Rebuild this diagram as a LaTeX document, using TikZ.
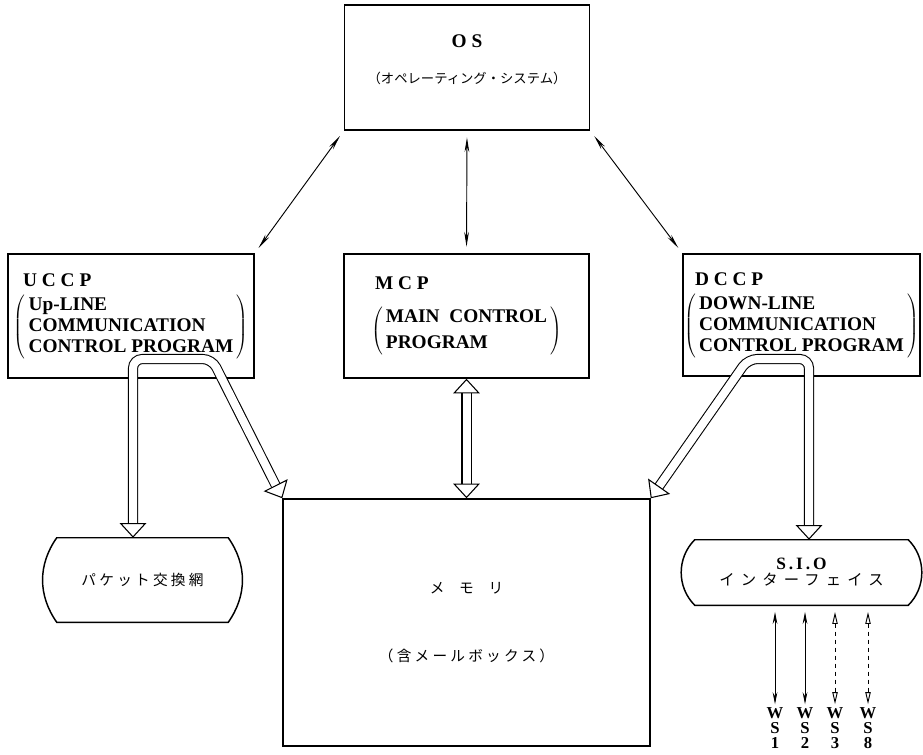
\documentclass[tikz,border=0pt]{standalone}
\usepackage{fontspec}
\setmainfont{Liberation Serif}
\newfontfamily\jpfont{Noto Sans CJK JP}
\newfontfamily\jpspaced[LetterSpace=22]{Noto Sans CJK JP}
\newfontfamily\jpwide[LetterSpace=40]{Noto Sans CJK JP}
\usetikzlibrary{arrows.meta}

\tikzset{
  progbox/.style={draw, line width=1.1pt, inner sep=0pt, align=left,
    font=\fontsize{14.5}{16}\selectfont\bfseries},
  termshape/.style={inner sep=0pt, align=center},
  outline/.style={line width=1.1pt},
  osarrow/.style={line width=0.7pt, >={Stealth[length=11pt, width=3.5pt]}, <->,
    shorten <=5pt, shorten >=5pt},
  bus/.style={double=white, double distance=6pt, line width=0.8pt, rounded corners=7pt,
    >={Triangle[open, length=11pt, width=20pt, line width=0.8pt]}, <->},
  wsline/.style={line width=0.7pt, >={Stealth[length=9pt, width=3.5pt]}, <->,
    shorten <=5pt, shorten >=2pt},
  wsdash/.style={line width=0.7pt, dash pattern=on 3pt off 3pt,
    >={Triangle[open, length=9pt, width=4pt]}, <->, shorten <=5pt, shorten >=2pt},
  wslabel/.style={align=center, inner sep=0pt, font=\fontsize{12.5}{11.5}\selectfont\bfseries}
}

\begin{document}
\begin{tikzpicture}[x=0.75pt, y=-0.75pt]
  \useasboundingbox (0,0) rectangle (923,755);

  \node[progbox, align=center, minimum width=183.75pt, minimum height=93.75pt] (os) at (467,67.5)
    {O S\\[11pt]{\jpfont\mdseries\fontsize{10}{12}\selectfont （オペレーティング・システム）}\\[-4pt]\mbox{}};
  \node[progbox, minimum width=184.5pt, minimum height=93pt] (uccp) at (131,316)
    {\hspace*{7pt}U C C P\\[5pt]$\left(\,\begin{tabular}{@{}l@{}}Up-LINE\\COMMUNICATION\\CONTROL PROGRAM\end{tabular}\,\right)$\\[-2pt]\mbox{}};
  \node[progbox, minimum width=183.75pt, minimum height=93pt] (mcp) at (466.5,316)
    {\hspace*{3pt}M C P\\[12pt]$\left(\,\begin{tabular}{@{}l@{}}MAIN\ \ CONTROL\\[3pt]PROGRAM\end{tabular}\,\right)$};
  \node[progbox, minimum width=177.75pt, minimum height=91.5pt] (dccp) at (801.5,315)
    {\hspace*{8pt}D C C P\\[5pt]$\left(\,\begin{tabular}{@{}l@{}}DOWN-LINE\\COMMUNICATION\\CONTROL PROGRAM\end{tabular}\,\right)$\\[-2pt]\mbox{}};
  \node[progbox, align=center, minimum width=275.25pt, minimum height=185.25pt,
    font=\jpfont\fontsize{11}{13}\selectfont] (mem) at (466.5,622.5)
    {メ\hspace{11pt}モ\hspace{11pt}リ\\[38pt]{\jpspaced （含メールボックス）}};

  \node[termshape, minimum width=128.25pt, minimum height=63pt] (packet) at (142.5,580)
    {\jpspaced\fontsize{11}{13}\selectfont パケット交換網};
  \node[termshape, minimum width=159.75pt, minimum height=48.75pt] (sio) at (801.5,572.5)
    {\fontsize{13}{15}\selectfont\bfseries S\,.\,I\,.\,O\\{\jpwide\fontsize{11.5}{13}\selectfont インターフェイス}};
  \draw[outline] (packet.north west) to[bend right=35] (packet.south west) -- (packet.south east)
    to[bend right=35] (packet.north east) -- cycle;
  \draw[outline] (sio.north west) to[bend right=45] (sio.south west) -- (sio.south east)
    to[bend right=45] (sio.north east) -- cycle;

  \draw[osarrow] (os.south west) -- (uccp.north east);
  \draw[osarrow] (os.south) -- (mcp.north);
  \draw[osarrow] (os.south east) -- (dccp.north west);

  \coordinate (uleg) at (133,359);
  \coordinate (uturn) at (212,359);
  \coordinate (dleg) at (809,359);
  \coordinate (dturn) at (748,359);
  \draw[bus] (uleg |- packet.north) -- (uleg) -- (uturn) -- (mem.north west);
  \draw[bus] (mcp.south) -- (mem.north);
  \draw[bus] (dleg |- sio.north) -- (dleg) -- (dturn) -- (mem.north east);

  \foreach \n/\x in {1/775, 2/805, 3/835, 8/868}
    \node[wslabel] (ws\n) at (\x,728) {W\\S\\\n};
  \foreach \n in {1,2}
    \draw[wsline] (ws\n |- sio.south) -- (ws\n.north);
  \foreach \n in {3,8}
    \draw[wsdash] (ws\n |- sio.south) -- (ws\n.north);
\end{tikzpicture}
\end{document}
